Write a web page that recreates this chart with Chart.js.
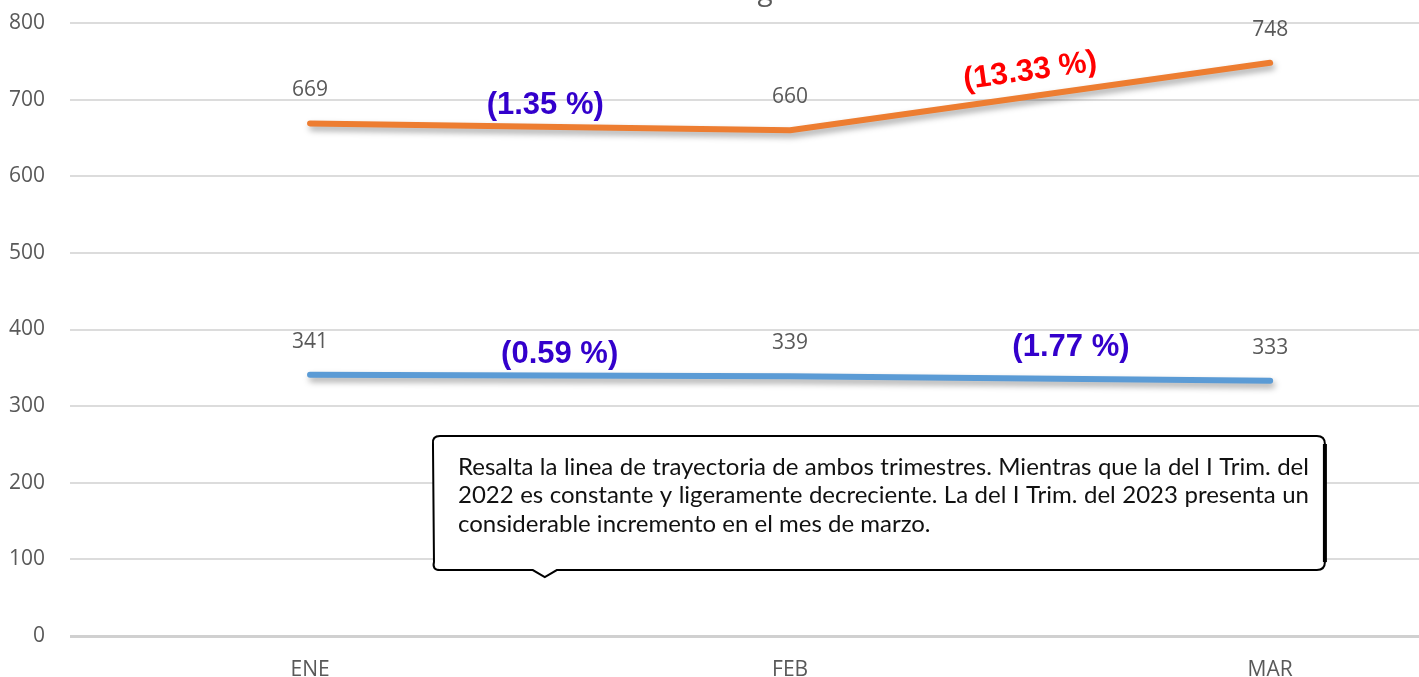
<!DOCTYPE html>
<html>
<head>
<meta charset="utf-8">
<script src="https://cdn.jsdelivr.net/npm/chart.js@4.4.1/dist/chart.umd.min.js"></script>
<style>
  html, body { margin: 0; padding: 0; background: #fff; }
  #wrap { width: 1419px; height: 677px; }
</style>
</head>
<body>
<div id="wrap"><canvas id="chart" width="1419" height="677"></canvas></div>
<script>
// months of the first quarter
const months = ['ENE', 'FEB', 'MAR'];
// I Trim. 2023 (orange) and I Trim. 2022 (blue)
const trim2023 = [669, 660, 748];
const trim2022 = [341, 339, 333];
// change between consecutive months
const pct2023 = ['(1.35 %)', '(13.33 %)'];
const pct2022 = ['(0.59 %)', '(1.77 %)'];
const noteLines = [
  'Resalta la linea de trayectoria de ambos trimestres. Mientras que la del I Trim. del',
  '2022 es constante y ligeramente decreciente. La del I Trim. del 2023 presenta un',
  'considerable incremento en el mes de marzo.'
];

const grey = '#595959';

const lineShadow = {
  id: 'lineShadow',
  beforeDatasetDraw(chart) {
    const c = chart.ctx;
    c.save();
    c.shadowColor = 'rgba(0,0,0,0.35)';
    c.shadowBlur = 6;
    c.shadowOffsetX = 2;
    c.shadowOffsetY = 4;
  },
  afterDatasetDraw(chart) {
    chart.ctx.restore();
  }
};

function justifyLine(c, text, x, y, width) {
  const words = text.split(' ');
  let total = 0;
  words.forEach(w => total += c.measureText(w).width);
  const gap = (width - total) / (words.length - 1);
  let cx = x;
  words.forEach(w => {
    c.fillText(w, cx, y);
    cx += c.measureText(w).width + gap;
  });
}

const labels = {
  id: 'labels',
  afterDatasetsDraw(chart) {
    const c = chart.ctx;
    const xs = chart.scales.x, ys = chart.scales.y;
    c.save();

    // cut-off title fragment at the very top
    c.fillStyle = grey;
    c.font = '28px "Open Sans"';
    c.textAlign = 'center';
    c.textBaseline = 'alphabetic';
    c.fillText('g', 765, 0);

    // value labels
    c.font = '21px "Open Sans"';
    c.textBaseline = 'middle';
    chart.data.datasets.forEach((ds, di) => {
      chart.getDatasetMeta(di).data.forEach((pt, i) => {
        c.fillText(String(ds.data[i].y), pt.x, pt.y - 33);
      });
    });

    // percentage changes
    c.font = 'bold 31px "Liberation Sans", Arial';
    c.fillStyle = '#3300cc';
    c.fillText(pct2023[0], xs.getPixelForValue(0.49), ys.getPixelForValue(693));
    c.fillText(pct2022[0], xs.getPixelForValue(0.52), ys.getPixelForValue(368));
    c.fillText(pct2022[1], xs.getPixelForValue(1.585), ys.getPixelForValue(377));
    c.save();
    c.translate(xs.getPixelForValue(1.5), ys.getPixelForValue(737));
    c.rotate(-8 * Math.PI / 180);
    c.fillStyle = '#ff0000';
    c.fillText(pct2023[1], 0, 0);
    c.restore();

    // callout box
    const L = xs.getPixelForValue(0.254), R = xs.getPixelForValue(2.114);
    const T = ys.getPixelForValue(261), B = ys.getPixelForValue(86);
    const px = xs.getPixelForValue(0.489);
    const r = 8;
    c.beginPath();
    c.moveTo(L + r, T);
    c.lineTo(R - r, T);
    c.quadraticCurveTo(R, T, R, T + r);
    c.lineTo(R, B - r);
    c.quadraticCurveTo(R, B, R - r, B);
    c.lineTo(px + 12, B);
    c.lineTo(px, B + 7);
    c.lineTo(px - 12, B);
    c.lineTo(L + r, B);
    c.quadraticCurveTo(L, B, L + 2, B - r);
    c.lineTo(L + 1, T + r);
    c.quadraticCurveTo(L, T, L + r, T);
    c.closePath();
    c.fillStyle = '#ffffff';
    c.fill();
    c.strokeStyle = '#000';
    c.lineWidth = 2;
    c.stroke();
    c.beginPath();
    c.moveTo(R, T + r);
    c.lineTo(R, B - r);
    c.lineWidth = 4;
    c.stroke();

    // callout text
    c.fillStyle = '#111111';
    c.font = '20px Lato';
    const fit = 472 / c.measureText(noteLines[2]).width;
    c.font = (20 * fit).toFixed(1) + 'px Lato';
    c.textAlign = 'left';
    c.textBaseline = 'middle';
    const tx = L + 26, tw = R - 16 - tx;
    justifyLine(c, noteLines[0], tx, T + 31, tw);
    justifyLine(c, noteLines[1], tx, T + 59, tw);
    c.fillText(noteLines[2], tx, T + 88);
    c.restore();
  }
};

new Chart(document.getElementById('chart'), {
  type: 'line',
  data: {
    datasets: [
      {
        label: 'I Trim. 2023',
        data: trim2023.map((v, i) => ({ x: i, y: v })),
        borderColor: '#ED7D31',
        borderWidth: 6,
        borderCapStyle: 'round',
        borderJoinStyle: 'round',
        pointRadius: 0,
        tension: 0
      },
      {
        label: 'I Trim. 2022',
        data: trim2022.map((v, i) => ({ x: i, y: v })),
        borderColor: '#5B9BD5',
        borderWidth: 6,
        borderCapStyle: 'round',
        borderJoinStyle: 'round',
        pointRadius: 0,
        tension: 0
      }
    ]
  },
  options: {
    responsive: false,
    animation: false,
    layout: { padding: { top: 23, left: 0, right: 0, bottom: 0 } },
    plugins: { legend: { display: false }, tooltip: { enabled: false } },
    scales: {
      x: {
        type: 'linear',
        min: -0.5,
        max: 2.31,
        grid: { display: false, drawTicks: false },
        border: { display: false },
        afterBuildTicks: s => { s.ticks = months.map((m, i) => ({ value: i })); },
        ticks: {
          callback: v => months[v],
          color: grey,
          font: { family: 'Open Sans', size: 21 },
          padding: 21,
          maxRotation: 0,
          autoSkip: false
        },
        afterFit: s => { s.height = 41; s.paddingLeft = 0; s.paddingRight = 0; }
      },
      y: {
        min: 0,
        max: 800,
        ticks: {
          stepSize: 100,
          color: grey,
          font: { family: 'Open Sans', size: 21 },
          padding: 25
        },
        grid: {
          drawTicks: false,
          color: c => c.tick.value === 0 ? '#d0d0d0' : '#dcdcdc',
          lineWidth: c => c.tick.value === 0 ? 3 : 2
        },
        border: { display: false },
        afterFit: s => { s.width = 70; s.paddingTop = 0; s.paddingBottom = 0; }
      }
    }
  },
  plugins: [lineShadow, labels]
});
</script>
</body>
</html>
